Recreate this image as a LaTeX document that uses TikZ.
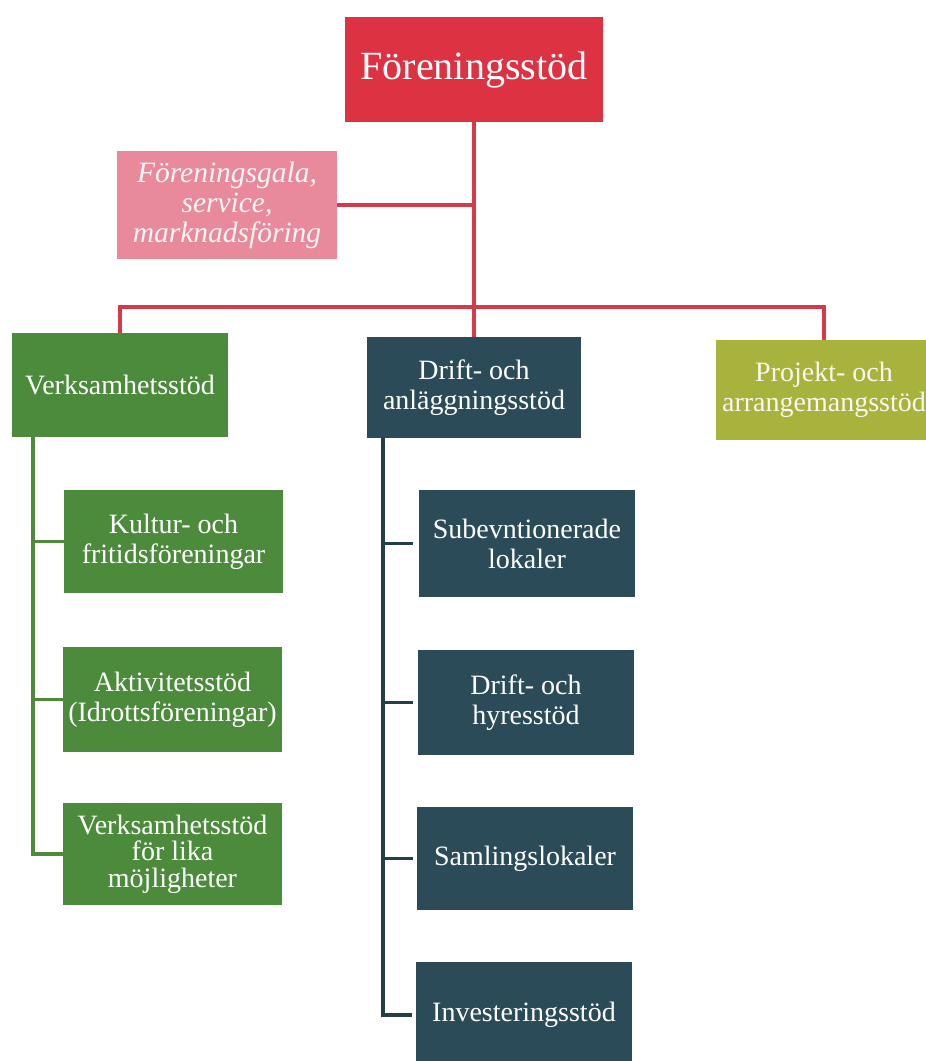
\documentclass[tikz,border=0pt]{standalone}
\usepackage{fontspec}
\setmainfont{Liberation Serif}
\definecolor{cRed}{HTML}{DC3242}
\definecolor{cPink}{HTML}{E98A9C}
\definecolor{cGreen}{HTML}{4C8B3B}
\definecolor{cDark}{HTML}{2C4B58}
\definecolor{cOlive}{HTML}{A8B33D}
\definecolor{lRed}{HTML}{D33A4C}
\definecolor{lGreen}{HTML}{4E8A3A}
\definecolor{lDark}{HTML}{263E48}
\begin{document}
\begin{tikzpicture}[x=1pt,y=-1pt,
  box/.style={rectangle, inner sep=0pt, align=center, text=white,
    font=\fontsize{28}{30}\selectfont},
  redline/.style={draw=lRed, line width=4pt},
  greenline/.style={draw=lGreen, line width=3.5pt},
  darkline/.style={draw=lDark, line width=3.5pt}]
\useasboundingbox (0,0) rectangle (926,1061);
% top
\node[box, fill=cRed, minimum width=258pt, minimum height=105pt,
  font=\fontsize{40}{44}\selectfont] (top) at (474,69.5) {Föreningsstöd};
\node[box, fill=cPink, minimum width=220pt, minimum height=108pt,
  text=white!92!cPink, font=\fontsize{29.5}{30}\selectfont\itshape] (pink) at (227,205)
  {Föreningsgala,\\service,\\marknadsföring};
% level 1
\node[box, fill=cGreen, minimum width=216pt, minimum height=104pt] (verk) at (120,385) {Verksamhetsstöd};
\node[box, fill=cDark, minimum width=214pt, minimum height=101pt] (drift) at (474,387.5) {Drift- och\\anläggningsstöd};
\node[box, fill=cOlive, minimum width=216pt, minimum height=100pt, text=white!92!cOlive] (proj) at (824,390) {Projekt- och\\arrangemangsstöd};
% green children
\node[box, fill=cGreen, minimum width=219pt, minimum height=103pt] (kultur) at (173.5,541.5) {Kultur- och\\fritidsföreningar};
\node[box, fill=cGreen, minimum width=219pt, minimum height=105pt] (aktiv) at (172.5,699.5) {Aktivitetsstöd\\(Idrottsföreningar)};
\node[box, fill=cGreen, minimum width=219pt, minimum height=102pt, font=\fontsize{28}{26.5}\selectfont] (lika) at (172.5,854) {Verksamhetsstöd\\för lika\\möjligheter};
% dark children
\node[box, fill=cDark, minimum width=216pt, minimum height=107pt] (subev) at (527,543.5) {Subevntionerade\\lokaler};
\node[box, fill=cDark, minimum width=216pt, minimum height=105pt] (hyres) at (526,702.5) {Drift- och\\hyresstöd};
\node[box, fill=cDark, minimum width=216pt, minimum height=103pt] (saml) at (525,858.5) {Samlingslokaler};
\node[box, fill=cDark, minimum width=216pt, minimum height=106pt] (inv) at (524,1015) {Investeringsstöd};
% red connectors
\coordinate (bar) at (474,307);
\draw[redline] (top.south) -- (bar);
\draw[redline] (pink.east) -- (pink.east -| top.south);
\draw[redline] (verk.north) |- (bar) -| (proj.north);
\draw[redline] (bar) -- (drift.north);
% green tree
\coordinate (gtop) at (33,437);
\draw[greenline] (gtop) |- (lika.west);
\draw[greenline] (gtop |- kultur.west) -- (kultur.west);
\draw[greenline] (gtop |- aktiv.west) -- (aktiv.west);
% dark tree
\coordinate (dtop) at (383,438);
\draw[darkline] (dtop) |- ([xshift=-4pt]inv.west);
\draw[darkline] (dtop |- subev.west) -- ([xshift=-6pt]subev.west);
\draw[darkline] (dtop |- hyres.west) -- ([xshift=-5pt]hyres.west);
\draw[darkline] (dtop |- saml.west) -- ([xshift=-4pt]saml.west);
\end{tikzpicture}
\end{document}
